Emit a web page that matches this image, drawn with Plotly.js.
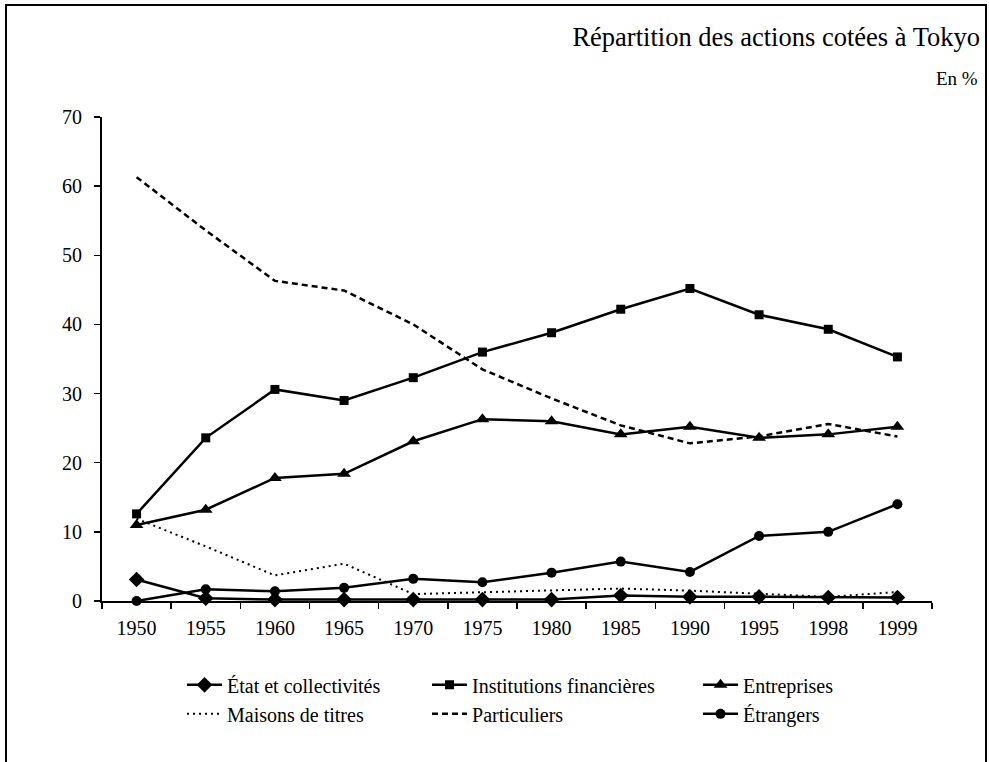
<!DOCTYPE html>
<html>
<head>
<meta charset="utf-8">
<script src="https://cdn.plot.ly/plotly-3.0.1.min.js"></script>
<style>html,body{margin:0;padding:0;background:#fff;}#chart{width:989px;height:762px;}</style>
</head>
<body>
<div id="chart"></div>
<script>
const years = ['1950','1955','1960','1965','1970','1975','1980','1985','1990','1995','1998','1999'];
const etat = [3.1, 0.4, 0.2, 0.2, 0.2, 0.2, 0.2, 0.8, 0.6, 0.6, 0.5, 0.5];
const institutions = [12.6, 23.6, 30.6, 29.0, 32.3, 36.0, 38.8, 42.2, 45.2, 41.4, 39.3, 35.3];
const entreprises = [11.0, 13.2, 17.8, 18.4, 23.1, 26.3, 26.0, 24.1, 25.2, 23.6, 24.1, 25.2];
const maisons = [11.9, 7.9, 3.7, 5.4, 1.0, 1.3, 1.6, 1.8, 1.5, 1.0, 0.6, 1.3];
const particuliers = [61.3, 53.6, 46.3, 44.9, 40.0, 33.5, 29.3, 25.4, 22.8, 23.8, 25.6, 23.8];
const etrangers = [0.0, 1.7, 1.4, 1.9, 3.2, 2.7, 4.1, 5.7, 4.2, 9.4, 10.0, 14.0];
const yTicks = [0, 10, 20, 30, 40, 50, 60, 70];

const F = 'Liberation Serif';
const line = {color: '#000', width: 2.5};

function tr(name, y, mode, lineOpt, marker, legend, group) {
  const t = {type: 'scatter', x: years, y: y, name: name, mode: mode,
    line: lineOpt, legend: legend, legendgroup: group,
    cliponaxis: false, hoverinfo: 'x+y+name'};
  if (marker) t.marker = marker;
  return t;
}

const data = [
  tr('État et collectivités', etat, 'lines+markers', line, {symbol: 'diamond', size: 12, color: '#000'}, 'legend', 'a'),
  tr('Maisons de titres', maisons, 'lines', {color: '#000', width: 2, dash: '2px,4px'}, null, 'legend', 'b'),
  tr('Institutions financières', institutions, 'lines+markers', line, {symbol: 'square', size: 9, color: '#000'}, 'legend2', 'c'),
  tr('Particuliers', particuliers, 'lines', {color: '#000', width: 2.5, dash: '6px,4px'}, null, 'legend2', 'd'),
  tr('Entreprises', entreprises, 'lines+markers', line, {symbol: 'triangle-up', size: 12, color: '#000'}, 'legend3', 'e'),
  tr('Étrangers', etrangers, 'lines+markers', line, {symbol: 'circle', size: 10, color: '#000'}, 'legend3', 'f')
];

function leg(x) {
  return {x: x, xref: 'paper', y: -0.133, yref: 'paper', xanchor: 'left', yanchor: 'top',
    orientation: 'v', bgcolor: 'rgba(0,0,0,0)', borderwidth: 0, itemwidth: 35,
    tracegroupgap: 0, font: {family: F, size: 20, color: '#000'}, itemclick: false};
}

const layout = {
  width: 989, height: 762,
  margin: {l: 102, r: 57, t: 117, b: 161},
  paper_bgcolor: '#fff', plot_bgcolor: '#fff',
  font: {family: F, color: '#000', size: 20},
  title: {text: 'Répartition des actions cotées à Tokyo', font: {family: F, size: 26.5, color: '#000'},
    xref: 'container', x: 980/989, xanchor: 'right', yref: 'container', y: 1 - 37/762, yanchor: 'middle'},
  xaxis: {type: 'category', range: [-0.5, 11.5], showgrid: false, zeroline: false,
    showline: true, linecolor: '#000', linewidth: 2, ticks: 'outside', tickson: 'boundaries',
    ticklen: 6, tickwidth: 1.5, tickcolor: '#000', ticklabelstandoff: 8,
    tickfont: {family: F, size: 20, color: '#000'}, fixedrange: true},
  yaxis: {range: [0, 70], tickvals: yTicks, ticktext: yTicks.map(String), showgrid: false, zeroline: false,
    showline: true, linecolor: '#000', linewidth: 2, ticks: 'outside', ticklen: 6, tickwidth: 1.5,
    tickcolor: '#000', ticklabelstandoff: 8, tickfont: {family: F, size: 20, color: '#000'}, fixedrange: true},
  legend: leg(0.0964),
  legend2: leg(0.3916),
  legend3: leg(0.7181),
  annotations: [{text: 'En %', xref: 'paper', yref: 'paper', x: (980-102)/830, y: (601-78)/484,
    xanchor: 'right', yanchor: 'middle', showarrow: false, font: {family: F, size: 19, color: '#000'}}],
  shapes: [{type: 'rect', xref: 'paper', yref: 'paper', x0: (6-102)/830, x1: (986-102)/830,
    y0: (601-800)/484, y1: (601-5)/484, line: {color: '#000', width: 2}, fillcolor: 'rgba(0,0,0,0)', layer: 'above'}],
  showlegend: true
};

Plotly.newPlot('chart', data, layout, {displayModeBar: false, staticPlot: true});
</script>
</body>
</html>
